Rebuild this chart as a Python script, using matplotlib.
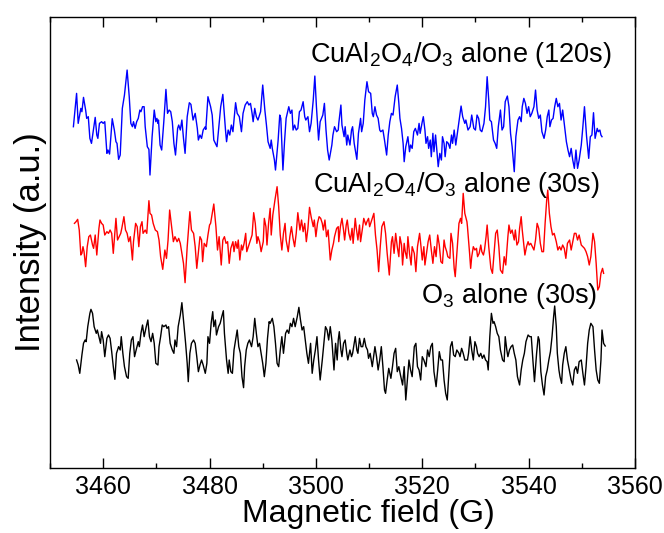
import numpy as np
import matplotlib
matplotlib.use("Agg")
import matplotlib.pyplot as plt
from matplotlib.ticker import MultipleLocator, NullLocator

plt.rcParams["font.family"] = ["Liberation Sans", "DejaVu Sans"]
plt.rcParams["mathtext.fontset"] = "custom"
plt.rcParams["mathtext.rm"] = "Liberation Sans"
plt.rcParams["mathtext.it"] = "Liberation Sans"

# EPR spectra, (field in G, intensity in a.u.) pairs
cual_120s = [
    (3454.4, 0), (3455.0, 100), (3455.3, 10), (3455.8, 55), (3456.0, 45), (3456.3, 88),
    (3456.7, 50), (3456.9, 25), (3457.2, 30), (3457.5, -35), (3457.8, -50), (3458.5, 28),
    (3458.8, -25), (3459.0, -35), (3459.3, 10), (3459.7, 15), (3460.0, 10), (3460.3, 15),
    (3460.7, -80), (3460.9, -70), (3461.2, -82), (3461.7, 24), (3462.1, -10), (3462.4, -45),
    (3462.6, -50), (3462.9, -98), (3463.2, -85), (3463.6, 55), (3464.0, 95), (3464.5, 170),
    (3464.9, 90), (3465.2, 10), (3465.5, 0), (3465.7, 15), (3466.0, -5), (3466.3, 15),
    (3466.6, 25), (3466.9, 50), (3467.1, 45), (3467.4, 60), (3467.7, 60), (3467.9, 0),
    (3468.3, -60), (3468.6, -68), (3468.8, -145), (3469.2, -30), (3469.6, 50), (3469.9, 15),
    (3470.1, 25), (3470.3, 10), (3470.4, 20), (3470.7, -55), (3471.0, -70), (3471.4, 15),
    (3471.8, 112), (3472.1, 40), (3472.4, 50), (3472.7, 45), (3473.0, 15), (3473.3, -50),
    (3473.6, -85), (3474.0, -5), (3474.2, 5), (3474.5, -10), (3474.8, 20), (3475.1, -35),
    (3475.4, -80), (3475.8, 30), (3476.2, 72), (3476.5, 67), (3476.9, 20), (3477.3, 40),
    (3477.7, -5), (3477.9, -40), (3478.2, -25), (3478.5, -35), (3478.8, -10), (3479.2, 0),
    (3479.3, -8), (3479.7, 90), (3480.2, 60), (3480.5, 35), (3480.8, -40), (3481.4, -60),
    (3481.7, -10), (3482.1, 60), (3482.5, 97), (3483.0, -10), (3483.2, -45), (3483.5, -10),
    (3483.8, -25), (3484.1, 5), (3484.4, -15), (3484.9, 72), (3485.2, 40), (3485.6, 30),
    (3486.0, -15), (3486.3, 40), (3486.7, 65), (3487.1, 75), (3487.4, 65), (3487.7, 70),
    (3488.0, 40), (3488.2, 15), (3488.5, 55), (3488.8, 30), (3489.1, 20), (3489.4, 35),
    (3489.6, 45), (3490.0, 125), (3490.4, 50), (3490.7, 5), (3491.0, -45), (3491.4, -65),
    (3491.6, -40), (3491.8, -65), (3492.2, -100), (3492.4, -130), (3492.9, -40), (3493.2, 35),
    (3493.4, 25), (3493.8, -130), (3494.1, -45), (3494.4, 25), (3494.9, 60), (3495.2, 40),
    (3495.5, 50), (3495.7, -10), (3496.0, 5), (3496.3, -10), (3496.6, -5), (3496.9, 45),
    (3497.2, 50), (3497.6, 75), (3497.9, 30), (3498.1, 20), (3498.5, 30), (3498.8, -15),
    (3499.1, 10), (3499.5, 80), (3499.8, 152), (3500.1, 60), (3500.5, -40), (3500.8, 15),
    (3501.3, 35), (3501.6, 70), (3501.9, -10), (3502.2, -70), (3502.5, -100), (3503.0, -55),
    (3503.2, -25), (3503.5, 0), (3503.9, -15), (3504.2, -10),
    (3504.3, 10), (3504.7, 65), (3504.9, 5), (3505.3, -30), (3505.5, 0), (3505.8, -55),
    (3506.0, -25), (3506.4, -55), (3506.7, -10), (3506.9, 0), (3507.2, -50), (3507.7, -98),
    (3508.0, -20), (3508.4, 25), (3508.6, -15), (3508.9, 10), (3509.2, 80), (3509.6, 135),
    (3509.9, 105), (3510.3, 100), (3510.6, 40), (3510.8, 30), (3511.1, 60), (3511.4, 35),
    (3511.7, 25), (3512.0, -10), (3512.2, -15), (3512.6, -10), (3512.9, -40), (3513.3, -85),
    (3513.6, -25), (3513.9, 15), (3514.2, 40), (3514.5, 35), (3514.9, 90), (3515.3, 125),
    (3515.6, 70), (3515.8, 25), (3516.1, -5), (3516.4, -50), (3516.6, -105), (3516.9, -60),
    (3517.3, -30), (3517.6, -75), (3517.8, -55), (3518.1, -65), (3518.4, -15), (3518.7, -5),
    (3519.1, -25), (3519.4, 10), (3519.6, -20), (3520.0, 15), (3520.2, 30), (3520.5, -10),
    (3520.7, -50), (3521.0, -30), (3521.2, -65), (3521.5, -40), (3521.7, -90), (3522.0, -20),
    (3522.2, -75), (3522.5, -25), (3523.0, -120), (3523.3, -80), (3523.6, -100), (3523.8, -30),
    (3524.1, -50), (3524.3, -90), (3524.6, -45), (3524.9, -50), (3525.2, -65), (3525.5, -25),
    (3525.7, -50), (3526.0, -10), (3526.3, -55), (3526.6, -20), (3526.9, 15), (3527.3, 62),
    (3527.6, 30), (3528.0, 10), (3528.2, 20), (3528.6, -10), (3529.0, 0),
    (3529.3, 35), (3529.7, -5), (3530.0, -10), (3530.3, 35), (3530.6, 25), (3530.9, -10),
    (3531.2, -15), (3531.6, 10), (3531.9, 60), (3532.2, 150), (3532.5, 80), (3532.7, 20),
    (3533.0, 15), (3533.4, -40), (3533.7, -50), (3534.0, -65), (3534.3, 0), (3534.7, 50),
    (3535.0, -10), (3535.3, 0), (3535.6, 75), (3536.0, 92), (3536.3, 60), (3536.6, -20),
    (3536.9, -60), (3537.3, -135), (3537.6, -30), (3538.0, 20), (3538.3, 30), (3538.6, 15),
    (3538.8, 60), (3539.1, 85), (3539.4, 70), (3539.7, 40), (3540.0, 60), (3540.3, 30),
    (3540.6, 40), (3541.0, 60), (3541.3, 110), (3541.6, 50), (3541.9, 25), (3542.2, 35),
    (3542.5, -15), (3542.9, -35), (3543.2, -10), (3543.5, 30), (3543.8, 50), (3544.0, 0),
    (3544.3, 20), (3544.6, 25), (3544.9, 60), (3545.2, 85), (3545.5, 60), (3545.8, 70),
    (3546.1, 20), (3546.4, 50), (3546.8, -5), (3547.1, -45), (3547.4, -70), (3547.7, -90),
    (3548.0, -65), (3548.3, -100), (3548.6, -125), (3548.9, -70), (3549.2, -125), (3549.5, -100),
    (3549.9, -55), (3550.2, 0), (3550.5, 60), (3550.9, -30), (3551.3, -95), (3551.6, -30),
    (3551.9, -25), (3552.2, 42), (3552.5, -35), (3552.9, -5), (3553.1, -15), (3553.4, -10),
    (3553.6, -25), (3553.8, -30),
]

cual_30s = [
    (3454.6, 50), (3454.9, 55), (3455.2, 62), (3455.5, 30), (3455.8, -45), (3456.0, -40),
    (3456.2, -20), (3456.4, -35), (3456.7, -80), (3457.0, -20), (3457.3, 10), (3457.6, 15),
    (3458.0, -15), (3458.2, -25), (3458.5, 15), (3458.8, -45), (3459.2, 35), (3459.4, 60),
    (3459.7, 50), (3460.0, 45), (3460.3, 15), (3460.7, 25), (3461.0, 20), (3461.3, 30),
    (3461.6, 20), (3461.9, -40), (3462.4, 65), (3462.7, 0), (3463.0, 10), (3463.3, 20),
    (3463.5, 35), (3463.9, 70), (3464.2, 30), (3464.5, 20), (3464.8, -5), (3465.1, 10),
    (3465.5, -60), (3465.7, -5), (3466.1, 50), (3466.4, 40), (3466.7, -20), (3467.0, 40),
    (3467.3, 55), (3467.5, 20), (3467.9, 30), (3468.2, 20), (3468.6, 118), (3468.8, 80),
    (3469.1, 75), (3469.4, 50), (3469.8, 30), (3470.2, 25), (3470.5, 0), (3470.8, -50),
    (3471.2, -88), (3471.6, -30), (3471.9, -55), (3472.2, 0), (3472.5, 90), (3472.9, 35),
    (3473.2, -5), (3473.5, 10), (3473.9, -5), (3474.2, 5), (3474.5, -10), (3474.8, -40),
    (3475.1, -70), (3475.4, -128), (3475.8, -20), (3476.3, 85), (3476.6, 30), (3477.0, 20),
    (3477.3, -20), (3477.6, -85), (3478.0, -20), (3478.2, 10), (3478.5, 0), (3478.7, -65),
    (3479.0, -10), (3479.2, -15),
    (3479.4, -20), (3479.7, 15), (3480.0, 45), (3480.2, 50), (3480.5, 80), (3480.8, 108),
    (3481.2, 40), (3481.5, -30), (3481.8, 10), (3482.2, -75), (3482.5, 0), (3482.8, 10),
    (3483.1, -10), (3483.4, -5), (3483.7, -70), (3484.0, -25), (3484.4, -5), (3484.6, -35),
    (3484.9, -5), (3485.2, -25), (3485.4, 0), (3485.7, -60), (3486.0, -15), (3486.2, -30),
    (3486.5, -10), (3486.8, 20), (3487.0, -35), (3487.4, -15), (3487.7, 0), (3488.0, 15),
    (3488.3, 82), (3488.6, 50), (3488.9, -10), (3489.1, 10), (3489.4, -5), (3489.7, -35),
    (3490.1, -5), (3490.3, 65), (3490.6, 40), (3490.8, -15), (3491.1, 50), (3491.4, 95),
    (3491.6, 15), (3491.9, 75), (3492.3, 120), (3492.7, 160), (3493.0, 100), (3493.3, 15),
    (3493.6, -30), (3493.9, 20), (3494.2, 50), (3494.4, 0), (3494.8, -35), (3495.1, 10),
    (3495.4, 40), (3495.7, 5), (3496.0, -20), (3496.3, 20), (3496.6, 82), (3497.0, 30),
    (3497.3, 60), (3497.6, 25), (3497.9, 50), (3498.2, -5), (3498.5, 35), (3498.8, 98),
    (3499.1, 70), (3499.5, 40), (3499.7, 60), (3500.0, 10), (3500.3, 50), (3500.6, 70),
    (3500.9, 65), (3501.2, 50), (3501.4, 30), (3501.7, 60), (3502.0, 10), (3502.3, 30),
    (3502.7, -60), (3503.0, -30), (3503.3, -10), (3503.5, 10), (3503.9, 35), (3504.2, 40),
    (3504.3, -5), (3504.6, 40), (3504.9, 65), (3505.2, 30), (3505.4, 0), (3505.7, 45),
    (3505.9, 60), (3506.2, 20), (3506.5, 0), (3506.8, 35), (3507.0, -10), (3507.4, 65),
    (3507.6, 35), (3507.9, 0), (3508.2, 45), (3508.4, -5), (3508.8, 40), (3509.0, 65),
    (3509.4, 45), (3509.6, 55), (3509.9, 65), (3510.1, 40), (3510.4, 55), (3510.7, 70),
    (3510.9, 80), (3511.2, 15), (3511.5, -30), (3511.8, -95), (3512.1, -20), (3512.4, 40),
    (3512.8, 55), (3513.1, 20), (3513.4, -40), (3513.8, -105), (3514.2, -5), (3514.4, 10),
    (3514.7, -40), (3515.0, 20), (3515.3, -20), (3515.6, -50), (3515.8, 10), (3516.1, -15),
    (3516.3, -75), (3516.6, -10), (3516.8, -35), (3517.1, -55), (3517.3, 10), (3517.6, -40),
    (3517.9, -75), (3518.1, -20), (3518.5, -40), (3518.8, -95), (3519.1, -20), (3519.5, 20),
    (3519.7, -10), (3520.0, -60), (3520.3, -20), (3520.5, -75), (3520.8, -40), (3521.1, -5),
    (3521.4, 15), (3521.7, -30), (3522.0, -70), (3522.3, -20), (3522.6, -50), (3522.9, 15),
    (3523.2, -15), (3523.5, -65), (3523.8, -70), (3524.1, 0), (3524.3, -20), (3524.6, -35),
    (3524.8, -50), (3525.2, -55), (3525.4, 20), (3525.7, -10), (3526.0, -85), (3526.2, -110),
    (3526.5, -40), (3526.9, 50), (3527.2, 65), (3527.4, 50), (3527.7, 140), (3528.0, 80),
    (3528.4, 55),
    (3528.5, 40), (3528.9, -40), (3529.1, -85), (3529.3, -50), (3529.6, -20), (3529.9, -30),
    (3530.2, -25), (3530.4, -50), (3530.7, -40), (3531.0, -15), (3531.2, -35), (3531.5, -45),
    (3531.7, -30), (3532.0, 10), (3532.2, 45), (3532.5, -20), (3532.9, -85), (3533.2, -100),
    (3533.5, -40), (3533.8, 20), (3534.1, 30), (3534.4, -20), (3534.7, -90), (3535.1, -100),
    (3535.4, -50), (3535.7, -75), (3536.1, 10), (3536.3, 45), (3536.6, 20), (3536.9, 30),
    (3537.3, 0), (3537.5, 30), (3537.8, -15), (3538.1, -5), (3538.3, 35), (3538.6, 70),
    (3538.8, 30), (3539.1, -15), (3539.3, -45), (3539.6, -20), (3539.9, -5), (3540.1, -15),
    (3540.4, -10), (3540.7, -20), (3541.0, -30), (3541.3, 0), (3541.6, 50), (3541.9, 35),
    (3542.2, -10), (3542.5, -35), (3542.8, -35), (3543.1, 50), (3543.4, 120), (3543.6, 150),
    (3543.9, 80), (3544.2, 40), (3544.5, 15), (3544.8, 20), (3545.2, -5), (3545.5, -30),
    (3545.8, -20), (3546.1, -30), (3546.4, -15), (3546.7, -25), (3547.0, -55), (3547.3, -10),
    (3547.7, 0), (3548.0, -30), (3548.3, -5), (3548.6, 20), (3548.9, 20), (3549.2, 0),
    (3549.5, 15), (3549.9, -15), (3550.2, -20), (3550.5, -25), (3550.8, -35), (3551.1, -50),
    (3551.4, -75), (3551.7, -50), (3552.1, 20), (3552.4, -5), (3552.7, -70), (3553.0, -150),
    (3553.3, -140), (3553.6, -100), (3553.9, -85), (3554.1, -100),
]

o3_30s = [
    (3455.0, -20), (3455.3, -35), (3455.6, -60), (3456.0, -5), (3456.3, 30), (3456.6, 40),
    (3456.8, 35), (3457.1, 80), (3457.5, 120), (3457.7, 132), (3458.0, 120), (3458.3, 80),
    (3458.7, 60), (3458.9, 70), (3459.2, 50), (3459.5, 30), (3459.7, 65), (3460.0, 40),
    (3460.3, -10), (3460.7, 45), (3461.0, 55), (3461.3, 45), (3461.6, 5), (3461.9, -40),
    (3462.2, -78), (3462.5, 0), (3462.9, 20), (3463.2, 10), (3463.4, 50), (3463.7, 0),
    (3464.0, -40), (3464.4, -70), (3464.7, -75), (3465.0, 0), (3465.3, 40), (3465.6, 50),
    (3465.9, -10), (3466.2, 10), (3466.6, 35), (3466.8, 20), (3467.1, 60), (3467.4, 85),
    (3467.7, 50), (3468.1, 80), (3468.4, 100), (3468.7, 50), (3469.0, 35), (3469.3, 60),
    (3469.6, 30), (3469.9, -30), (3470.3, -35), (3470.5, 20), (3470.8, 50), (3471.1, 85),
    (3471.4, 80), (3471.8, 85), (3472.0, 75), (3472.3, 80), (3472.6, 30), (3473.0, 10),
    (3473.3, 0), (3473.5, 40), (3473.8, 20), (3474.1, 80), (3474.5, 115), (3474.8, 152),
    (3475.1, 100), (3475.5, 30), (3475.8, -30), (3476.0, -85), (3476.3, 0), (3476.6, 30),
    (3477.0, 40), (3477.3, 30), (3477.6, -10), (3477.9, -55), (3478.2, -35), (3478.5, -20),
    (3478.8, -35), (3479.2, -60),
    (3479.5, -30), (3479.7, 50), (3480.0, 30), (3480.3, 90), (3480.6, 125), (3480.8, 80),
    (3481.1, 100), (3481.3, 55), (3481.7, 80), (3482.0, 90), (3482.3, 110), (3482.6, 128),
    (3482.8, 60), (3483.2, -20), (3483.5, -60), (3483.7, -20), (3484.0, -55), (3484.3, -60),
    (3484.6, 10), (3484.9, 40), (3485.2, 70), (3485.5, 20), (3485.8, 0), (3486.1, -70),
    (3486.4, -103), (3486.6, -40), (3486.9, 10), (3487.2, 30), (3487.5, 40), (3487.9, 20),
    (3488.2, 50), (3488.5, 105), (3488.8, 60), (3489.1, 20), (3489.4, 30), (3489.7, 0),
    (3490.0, -30), (3490.3, -70), (3490.6, -30), (3490.9, 45), (3491.2, 95), (3491.4, 90),
    (3491.8, 105), (3492.1, 80), (3492.4, 30), (3492.7, -30), (3493.0, -40), (3493.3, 10),
    (3493.6, 50), (3493.9, 0), (3494.3, 60), (3494.6, 70), (3494.9, 60), (3495.2, 90),
    (3495.5, 80), (3495.8, 105), (3496.1, 80), (3496.5, 110), (3496.8, 138), (3497.1, 100),
    (3497.4, 70), (3497.7, 80), (3498.0, 40), (3498.3, 0), (3498.6, -30), (3499.0, 30),
    (3499.3, -60), (3499.6, -20), (3499.9, 10), (3500.2, 50), (3500.5, -20), (3500.8, -80),
    (3501.2, -20), (3501.5, 30), (3501.8, 80), (3502.1, 70), (3502.4, 40), (3502.7, 80),
    (3503.0, 40), (3503.4, -50), (3503.7, 30), (3504.0, -20),
    (3504.2, 40), (3504.4, 65), (3504.7, 10), (3504.9, -10), (3505.2, 30), (3505.5, 40),
    (3505.8, 0), (3506.0, -20), (3506.4, 10), (3506.7, -10), (3506.9, 0), (3507.2, 30),
    (3507.4, 50), (3507.7, 10), (3507.9, 0), (3508.2, 45), (3508.5, 20), (3508.8, 20),
    (3509.1, 45), (3509.4, 20), (3509.7, 10), (3509.9, -15), (3510.2, 0), (3510.6, -40),
    (3510.8, -15), (3511.1, 20), (3511.4, -10), (3511.7, -50), (3512.0, -20), (3512.3, 20),
    (3512.6, -40), (3512.9, -110), (3513.1, -120), (3513.4, -80), (3513.7, -45), (3514.1, -75),
    (3514.4, -40), (3514.7, 0), (3515.0, 15), (3515.3, -55), (3515.6, -40), (3515.9, -65),
    (3516.3, -95), (3516.6, -40), (3516.9, -140), (3517.2, -80), (3517.5, -20), (3517.8, -50),
    (3518.1, -70), (3518.5, 20), (3518.8, 30), (3519.1, -40), (3519.4, -50), (3519.7, -80),
    (3520.0, -10), (3520.3, -20), (3520.7, -40), (3521.0, 10), (3521.3, -10), (3521.6, 20),
    (3521.9, 30), (3522.2, -55), (3522.6, -100), (3522.9, -50), (3523.2, 5), (3523.5, -20),
    (3523.8, -20), (3524.1, -80), (3524.4, -120), (3524.7, -140), (3525.0, -60), (3525.3, 20),
    (3525.6, 35), (3525.9, -5), (3526.2, -10), (3526.5, 10), (3526.9, 0), (3527.1, -10),
    (3527.4, 15), (3527.7, 0), (3528.0, -20),
    (3528.5, -20), (3528.7, 0), (3529.0, 50), (3529.3, 10), (3529.6, -20), (3529.9, 35),
    (3530.2, 20), (3530.4, 0), (3530.7, -10), (3531.0, 0), (3531.3, -15), (3531.6, -5),
    (3531.9, -20), (3532.2, -25), (3532.4, -50), (3532.7, 50), (3533.0, 120), (3533.3, 90),
    (3533.5, 95), (3533.8, 80), (3534.1, 60), (3534.4, 50), (3534.7, 10), (3535.1, -20),
    (3535.4, -25), (3535.6, 50), (3535.9, 10), (3536.1, -10), (3536.4, 10), (3536.7, 20),
    (3537.0, 25), (3537.3, 0), (3537.6, -20), (3537.9, -70), (3538.3, -95), (3538.6, -50),
    (3538.9, -20), (3539.2, 0), (3539.5, 35), (3539.9, 55), (3540.2, 50), (3540.5, 50),
    (3540.8, -20), (3541.1, -85), (3541.5, 0), (3541.8, 50), (3542.0, 40), (3542.3, -55),
    (3542.6, -95), (3542.9, -125), (3543.2, -70), (3543.5, -50), (3543.8, -20), (3544.1, 5),
    (3544.4, 50), (3544.7, 110), (3544.9, 142), (3545.2, 80), (3545.4, 0), (3545.7, -50),
    (3545.9, -70), (3546.2, -90), (3546.4, -35), (3546.7, 0), (3547.0, 20), (3547.3, -20),
    (3547.7, -55), (3548.0, -80), (3548.3, -95), (3548.6, -50), (3548.9, -40), (3549.2, -60),
    (3549.5, -25), (3549.9, -20), (3550.2, -60), (3550.5, -95), (3550.8, -40), (3551.1, 30),
    (3551.4, 70), (3551.7, 90), (3552.1, 80), (3552.4, 10), (3552.7, -50), (3553.0, -80),
    (3553.3, -90), (3553.6, -20), (3553.8, 70), (3554.1, 30), (3554.4, 22),
]

labels = [r"CuAl$_{\mathrm{2}}$O$_{\mathrm{4}}$/O$_{\mathrm{3}}$ alone (120s)",
          r"CuAl$_{\mathrm{2}}$O$_{\mathrm{4}}$/O$_{\mathrm{3}}$ alone (30s)",
          r"O$_{\mathrm{3}}$ alone (30s)"]
colors = ["#0000ff", "#ff0000", "#000000"]
offsets = [680, 340, 0]

fig = plt.figure(figsize=(6.64, 5.33), dpi=100)
ax = fig.add_axes([0.0753, 0.122, 0.881, 0.846])

for spec, c, off in zip([cual_120s, cual_30s, o3_30s], colors, offsets):
    field, inten = np.array(spec).T
    ax.plot(field, inten + off, color=c, lw=1.0)

# curve labels, right-aligned above each spectrum
label_pos = [(3555.7, 895), (3553.4, 505), (3552.9, 172)]
for (x, y), txt in zip(label_pos, labels):
    ax.text(x, y, txt, ha="right", va="center", fontsize=19.5)

ax.set_xlim(3450, 3560)
ax.set_ylim(-344, 1009)
ax.xaxis.set_major_locator(MultipleLocator(20))
ax.xaxis.set_minor_locator(MultipleLocator(10))
ax.yaxis.set_major_locator(NullLocator())
ax.tick_params(axis="x", which="major", direction="in", length=7, width=1,
               top=True, labelsize=18, pad=5)
ax.tick_params(axis="x", which="minor", direction="in", length=3.5, width=1, top=True)
for s in ax.spines.values():
    s.set_linewidth(1.0)

ax.set_xlabel("Magnetic field (G)", fontsize=23, labelpad=0, x=0.544)
ax.set_ylabel("Intensity (a.u.)", fontsize=25, labelpad=2)

fig.savefig("out.png", dpi=100)
